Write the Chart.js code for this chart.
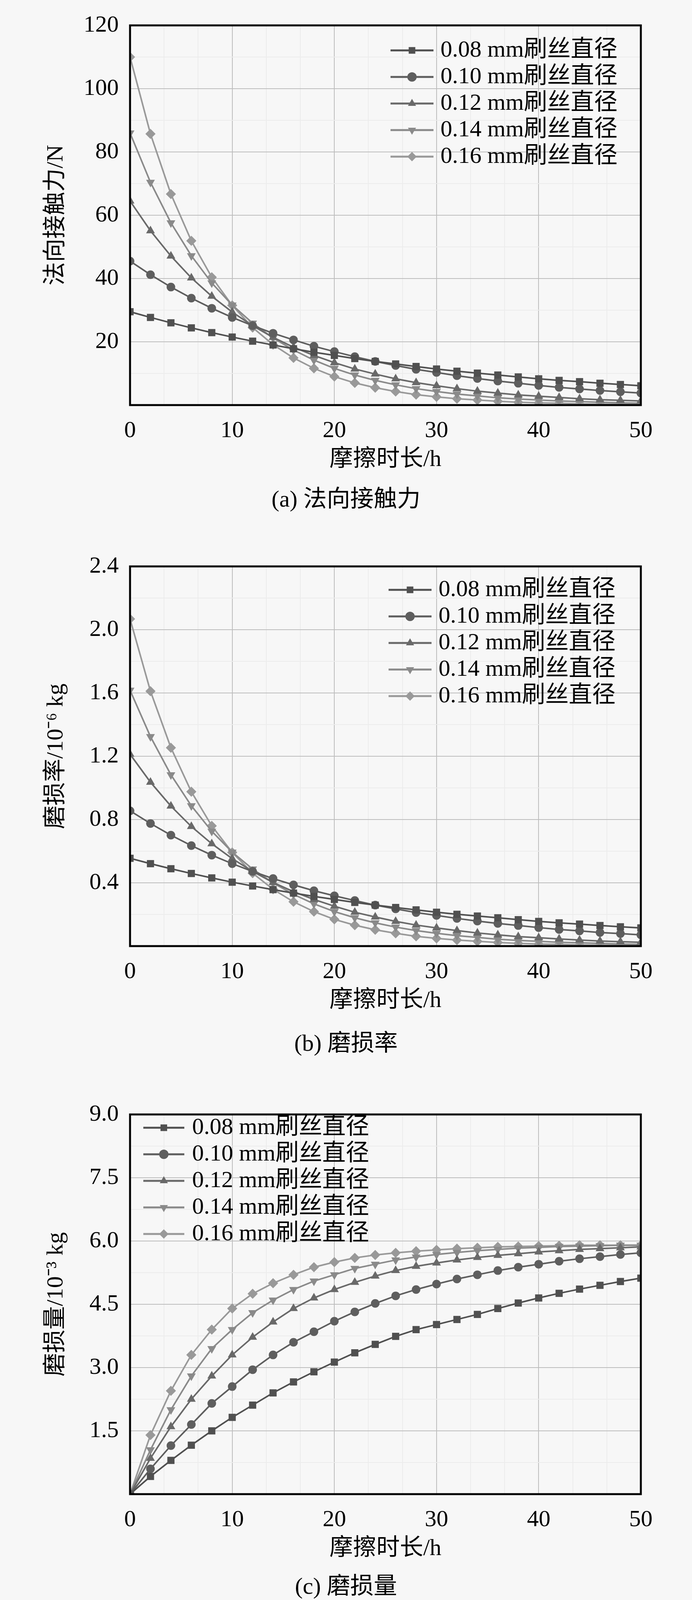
<!DOCTYPE html>
<html><head><meta charset="utf-8">
<script src="https://cdn.jsdelivr.net/npm/chart.js@4"></script>
<style>
body{margin:0;background:#f7f7f7;width:1772px;height:4112px;position:relative;overflow:hidden}
.c{position:absolute;left:0;width:1772px;height:1230px}
.cap{position:absolute;left:0;width:1772px;text-align:center;font:60px "Liberation Serif","Noto Sans CJK SC";color:#000;line-height:60px}
</style></head><body>
<div class="c" style="top:0"><canvas id="ca"></canvas></div>
<div class="cap" style="top:1247px">(a) 法向接触力</div>
<div class="c" style="top:1385px"><canvas id="cb"></canvas></div>
<div class="cap" style="top:2640px">(b) 磨损率</div>
<div class="c" style="top:2788px"><canvas id="cc"></canvas></div>
<div class="cap" style="top:4030px">(c) 磨损量</div>
<script>
const hours=[0,2,4,6,8,10,12,14,16,18,20,22,24,26,28,30,32,34,36,38,40,42,44,46,48,50];
const seriesLabels=['0.08 mm刷丝直径','0.10 mm刷丝直径','0.12 mm刷丝直径','0.14 mm刷丝直径','0.16 mm刷丝直径'];
const xTitle='摩擦时长/h';
const forceTitle='法向接触力/N';
const rateTitle='磨损率/10⁻⁶ kg';
const amountTitle='磨损量/10⁻³ kg';
const force008=[29.5,27.7,26.0,24.4,22.9,21.5,20.2,19.0,17.8,16.7,15.7,14.7,13.8,13.0,12.2,11.4,10.7,10.1,9.5,8.9,8.3,7.8,7.4,6.9,6.5,6.1];
const force010=[45.5,41.2,37.3,33.8,30.6,27.7,25.1,22.7,20.6,18.6,16.9,15.3,13.8,12.5,11.3,10.3,9.3,8.4,7.6,6.9,6.2,5.6,5.1,4.6,4.2,3.8];
const force012=[64.5,55.1,47.1,40.2,34.4,29.4,25.1,21.4,18.3,15.7,13.4,11.4,9.8,8.3,7.1,6.1,5.2,4.4,3.8,3.2,2.8,2.4,2.0,1.7,1.5,1.3];
const force014=[86,70.4,57.6,47.2,38.6,31.6,25.9,21.2,17.4,14.2,11.6,9.5,7.8,6.4,5.2,4.3,3.5,2.9,2.3,1.9,1.6,1.3,1.1,0.9,0.7,0.6];
const force016=[110,85.7,66.7,51.9,40.4,31.5,24.5,19.1,14.9,11.6,9.0,7.0,5.5,4.3,3.3,2.6,2.0,1.6,1.2,0.9,0.7,0.6,0.4,0.3,0.3,0.2];
const rate008=[0.555,0.521,0.489,0.459,0.431,0.404,0.380,0.357,0.335,0.314,0.295,0.276,0.259,0.244,0.229,0.214,0.201,0.190,0.179,0.167,0.156,0.147,0.139,0.130,0.122,0.115];
const rate010=[0.855,0.775,0.701,0.635,0.575,0.521,0.472,0.427,0.387,0.350,0.318,0.288,0.259,0.235,0.212,0.194,0.175,0.158,0.143,0.130,0.117,0.105,0.096,0.086,0.079,0.071];
const rate012=[1.213,1.036,0.885,0.756,0.647,0.553,0.472,0.402,0.344,0.295,0.252,0.214,0.184,0.156,0.133,0.115,0.098,0.083,0.071,0.060,0.053,0.045,0.038,0.032,0.028,0.024];
const rate014=[1.617,1.324,1.083,0.887,0.726,0.594,0.487,0.399,0.327,0.267,0.218,0.179,0.147,0.120,0.098,0.081,0.066,0.055,0.043,0.036,0.030,0.024,0.021,0.017,0.013,0.011];
const rate016=[2.068,1.611,1.254,0.976,0.760,0.592,0.461,0.359,0.280,0.218,0.169,0.132,0.103,0.081,0.062,0.049,0.038,0.030,0.023,0.017,0.013,0.011,0.008,0.006,0.006,0.004];
const amount008=[0,0.42,0.8,1.16,1.5,1.82,2.11,2.4,2.66,2.9,3.13,3.35,3.55,3.74,3.9,4.02,4.14,4.26,4.4,4.53,4.65,4.76,4.86,4.95,5.04,5.12];
const amount010=[0,0.6,1.15,1.65,2.15,2.55,2.95,3.3,3.6,3.85,4.1,4.32,4.52,4.7,4.85,4.98,5.1,5.2,5.3,5.38,5.45,5.52,5.58,5.63,5.68,5.72];
const amount012=[0,0.85,1.6,2.25,2.8,3.3,3.72,4.08,4.4,4.65,4.85,5.02,5.17,5.3,5.4,5.48,5.55,5.61,5.66,5.7,5.74,5.77,5.8,5.82,5.84,5.86];
const amount014=[0,1.05,2.0,2.8,3.45,3.9,4.3,4.6,4.85,5.05,5.2,5.35,5.45,5.55,5.62,5.68,5.73,5.77,5.8,5.83,5.85,5.87,5.88,5.89,5.9,5.9];
const amount016=[0,1.4,2.45,3.3,3.9,4.4,4.75,5.0,5.2,5.38,5.5,5.6,5.67,5.72,5.76,5.79,5.82,5.84,5.86,5.87,5.88,5.89,5.9,5.9,5.9,5.9];

const FONT='"Liberation Serif","Noto Sans CJK SC"';
const colors=['#505050','#5e5e5e','#696969','#8a8a8a','#999999'];
const styles=[['rect',0],['circle',0],['triangle',0],['triangle',180],['rectRot',0]];

function makeChart(id,arrs,yTitle,yMax,yStep,major,fmt,leg){
  const datasets=arrs.map((a,i)=>({label:seriesLabels[i],data:hours.map((h,j)=>({x:h,y:a[j]})),
    borderColor:colors[i],backgroundColor:colors[i],borderWidth:4,pointStyle:styles[i][0],rotation:styles[i][1],
    pointRadius:i===1?11:13,pointBorderWidth:0}));
  const isMaj=(v,m)=>Math.abs(v/m-Math.round(v/m))<1e-6;
  new Chart(document.getElementById(id),{type:'line',data:{datasets},
   options:{responsive:true,maintainAspectRatio:false,animation:false,
    layout:{padding:{top:0,right:131,left:0,bottom:0}},
    plugins:{legend:{display:false},tooltip:{enabled:false}},
    scales:{
     x:{type:'linear',min:0,max:50,afterFit:s=>{s.height=193},
        ticks:{stepSize:10/3,autoSkip:false,padding:30,color:'#000',font:{family:FONT,size:60},maxRotation:0,
          callback:v=>isMaj(v,10)?String(Math.round(v)):''},
        grid:{drawTicks:false,color:c=>isMaj(c.tick.value,10)?'#bdbdbd':'#ececec',lineWidth:2},border:{display:false},
        title:{display:true,text:xTitle,color:'#000',font:{family:FONT,size:60},padding:{top:0,bottom:17}}},
     y:{min:0,max:yMax,afterFit:s=>{s.width=333},
        ticks:{stepSize:yStep,autoSkip:false,padding:29,color:'#000',font:{family:FONT,size:60},
          callback:v=>(v>0&&isMaj(v,major))?fmt(v):''},
        grid:{drawTicks:false,color:c=>isMaj(c.tick.value,major)?'#bdbdbd':'#ececec',lineWidth:2},border:{display:false},
        title:{display:true,text:yTitle,color:'#000',font:{family:FONT,size:60},padding:{top:108,bottom:0}}}
    }},
   plugins:[{id:'frame',afterDraw(ch){
     const ctx=ch.ctx,a=ch.chartArea;ctx.save();ctx.strokeStyle='#000';ctx.lineWidth=5;
     ctx.strokeRect(a.left,a.top,a.right-a.left,a.bottom-a.top);
     ctx.font='60px '+FONT;ctx.textBaseline='middle';
     seriesLabels.forEach((t,i)=>{
       const y=a.top+leg.y+i*68;
       ctx.strokeStyle=colors[i];ctx.lineWidth=5;ctx.beginPath();ctx.moveTo(leg.x0,y);ctx.lineTo(leg.x1,y);ctx.stroke();
       ctx.fillStyle=colors[i];
       Chart.helpers.drawPoint(ctx,{pointStyle:styles[i][0],rotation:styles[i][1],radius:12,borderWidth:0},(leg.x0+leg.x1)/2,y);
       ctx.fillStyle='#000';ctx.fillText(t,leg.tx,y);
     });
     ctx.restore();}}]
  });
}
makeChart('ca',[force008,force010,force012,force014,force016],forceTitle,120,10,20,v=>String(Math.round(v)),{x0:1000,x1:1110,tx:1128,y:64});
makeChart('cb',[rate008,rate010,rate012,rate014,rate016],rateTitle,2.4,0.2,0.4,v=>v.toFixed(1),{x0:995,x1:1105,tx:1123,y:60});
makeChart('cc',[amount008,amount010,amount012,amount014,amount016],amountTitle,9,0.75,1.5,v=>v.toFixed(1),{x0:367,x1:472,tx:492,y:34});
</script></body></html>
